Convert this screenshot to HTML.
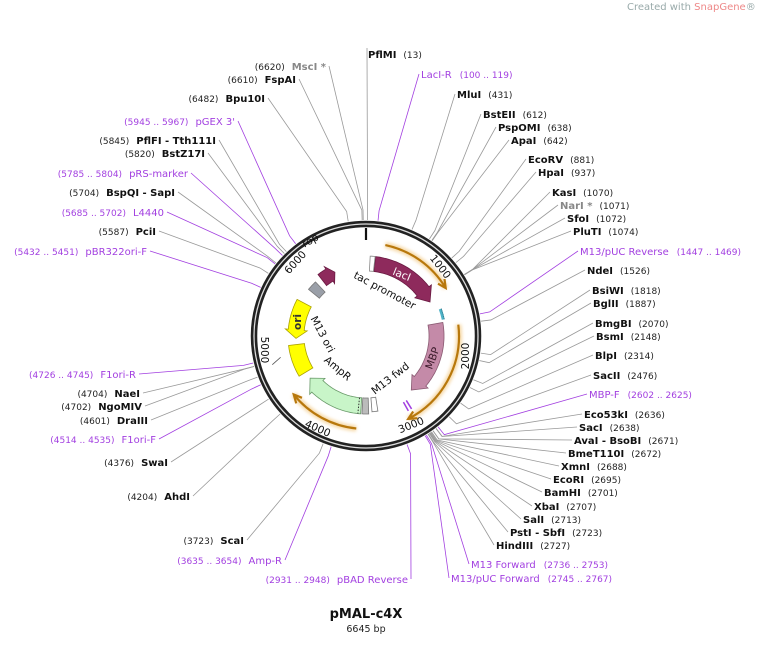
<!DOCTYPE html>
<html><head><meta charset="utf-8">
<style>
html,body{margin:0;padding:0;background:#fff;}
svg{display:block;font-family:"DejaVu Sans","Liberation Sans",sans-serif;}
.n{font-weight:bold;font-size:10px;fill:#111;}
.p{font-size:9px;fill:#222;}
.pu{font-size:10px;fill:#a23fe0;}
.pn{font-size:9px;fill:#a23fe0;}
.g{font-size:10px;font-weight:bold;fill:#888;}
.t{font-size:10.5px;fill:#111;}
</style></head>
<body>
<svg id="s" width="760" height="656" viewBox="0 0 760 656" xmlns="http://www.w3.org/2000/svg">
<defs>
<filter id="glow" x="-20%" y="-20%" width="140%" height="140%"><feGaussianBlur stdDeviation="1.6"/></filter>
</defs>
<text x="627" y="10" style="font-size:10px;fill:#9aa;">Created with <tspan fill="#e88">SnapGene</tspan>®</text>
<g id="lines"></g>
<g id="ring">
<circle cx="366" cy="336" r="112" fill="none" stroke="#222" stroke-width="6.5"/>
<circle cx="366" cy="336" r="112" fill="none" stroke="#ddd" stroke-width="1.3"/>
<line x1="366" y1="228" x2="366" y2="240" stroke="#111" stroke-width="2.2"/>
</g>
<g id="feat"></g>
<g id="lab"></g>
<g class="t">
<text x="440" y="270" text-anchor="middle" transform="rotate(52 440 267)">1000</text>
<text x="469" y="362" text-anchor="middle" transform="rotate(-90 466 359)">2000</text>
<text x="411" y="429" text-anchor="middle" transform="rotate(-22 410 425)">3000</text>
<text x="318" y="432" text-anchor="middle" transform="rotate(24 318 428)">4000</text>
<text x="264" y="353" text-anchor="middle" transform="rotate(90 264 350)">5000</text>
<text x="295" y="266" text-anchor="middle" transform="rotate(-48 295 262)">6000</text>
<text x="310" y="244" text-anchor="middle" transform="rotate(-30 310 240)">rop</text>
<text x="385" y="294" text-anchor="middle" transform="rotate(28 385 290)">tac promoter</text>
<text x="323" y="338" text-anchor="middle" transform="rotate(62 323 334)">M13 ori</text>
<text x="338" y="372" text-anchor="middle" transform="rotate(40 338 368)">AmpR</text>
<text x="390" y="382" text-anchor="middle" transform="rotate(-38 390 378)">M13 fwd</text>
<text x="432" y="362" text-anchor="middle" transform="rotate(-70 432 358)" style="fill:#3a1a2a">MBP</text>
<text x="402" y="278" text-anchor="middle" transform="rotate(22 402 274)" style="fill:#fff">lacI</text>
<text x="297" y="326" text-anchor="middle" transform="rotate(-90 297 322)" style="font-weight:bold;fill:#333">ori</text>
</g>
<text x="366" y="618" text-anchor="middle" style="font-weight:bold;font-size:13px;fill:#111">pMAL-c4X</text>
<text x="366" y="632" text-anchor="middle" style="font-size:9.5px;fill:#222">6645 bp</text>
</svg>
<script>
var cx=366,cy=336,N=6645,NS="http://www.w3.org/2000/svg";
function P(a,r){var t=a*Math.PI/180;return [cx+r*Math.sin(t),cy-r*Math.cos(t)];}
function el(p,tag,at){var e=document.createElementNS(NS,tag);for(var k in at)e.setAttribute(k,at[k]);document.getElementById(p).appendChild(e);return e;}
function arcPath(a1,a2,r){var p1=P(a1,r),p2=P(a2,r);var large=Math.abs(a2-a1)>180?1:0;var sw=a2>a1?1:0;return "M"+p1+" A"+r+","+r+" 0 "+large+","+sw+" "+p2;}
// feature arrow: from a1 to a2 (direction), head length h deg
function feat(a1,a2,r1,r2,h,fill,stroke){
 var d=a2>a1?1:-1,ah=a2-d*h,rm=(r1+r2)/2,fl=3;
 var pts=[];
 var n=30;
 for(var i=0;i<=n;i++){pts.push(P(a1+(ah-a1)*i/n,r2));}
 if(h>0){pts.push(P(ah,r2+fl));pts.push(P(a2,rm));pts.push(P(ah,r1-fl));}
 else{pts.push(P(a2,r2));pts.push(P(a2,r1));}
 for(var i=n;i>=0;i--){pts.push(P(a1+(ah-a1)*i/n,r1));}
 el("feat","polygon",{points:pts.map(function(p){return p[0].toFixed(1)+","+p[1].toFixed(1)}).join(" "),fill:fill,stroke:stroke,"stroke-width":0.8});
}
function orange(a1,a2,r){
 el("feat","path",{d:arcPath(a1,a2,r),fill:"none",stroke:"#f6d9a8","stroke-width":6,filter:"url(#glow)"});
 el("feat","path",{d:arcPath(a1,a2,r),fill:"none",stroke:"#b8780c","stroke-width":2.2});
 var d=a2>a1?1:-1;var a=P(a2,r),b=P(a2-d*5,r+4),c=P(a2-d*5,r-4);
 el("feat","polyline",{points:b+" "+a+" "+c,fill:"none",stroke:"#b8780c","stroke-width":2.2});
}
orange(12,59,93);orange(83,153,93);orange(186,231,93);
feat(7,62,65,80,10,"#8e2a5c","#6a1a42");
feat(3,6.5,65,80,0,"#fff","#888");
feat(80,140,63,78,10,"#c48aa8","#8a5a72");
feat(298,268,62,78,7,"#ffff00","#aaa000");
feat(239,263,62,78,0,"#ffff00","#aaa000");
feat(184,233,62,78,9,"#c8f5c8","#6a9a6a");
feat(178,183,62,78,0,"#bbb","#777");
feat(171,175.5,62,76,0,"#fff","#777");
feat(322,334,64,78,5,"#8e2a5c","#6a1a42");
feat(309,317,60,74,0,"#9a9fa8","#777");
el("feat","line",{x1:P(186,62)[0],y1:P(186,62)[1],x2:P(186,78)[0],y2:P(186,78)[1],stroke:"#333","stroke-dasharray":"1.5,1.5"});
el("feat","path",{d:arcPath(70,78,79),fill:"none",stroke:"#4fb3c8","stroke-width":3});
el("feat","path",{d:arcPath(70,78,80),fill:"none",stroke:"#1e6070","stroke-width":0.8,"stroke-dasharray":"1,1"});
el("feat","line",{x1:P(148,76)[0],y1:P(148,76)[1],x2:P(148,86)[0],y2:P(148,86)[1],stroke:"#a23fe0","stroke-width":1.5});
el("feat","line",{x1:P(150.5,76)[0],y1:P(150.5,76)[1],x2:P(150.5,86)[0],y2:P(150.5,86)[1],stroke:"#a23fe0","stroke-width":1.5});
el("feat","line",{x1:P(253,98)[0],y1:P(253,98)[1],x2:P(256,88)[0],y2:P(256,88)[1],stroke:"#555","stroke-width":0.8});

// labels: [pos, name, num, x, y, side, type]
var R=[
[13,"PflMI","(13)",368,58,"n"],
[110,"LacI-R","(100 .. 119)",421,78,"u"],
[431,"MluI","(431)",457,98,"n"],
[612,"BstEII","(612)",483,118,"n"],
[638,"PspOMI","(638)",498,131,"n"],
[642,"ApaI","(642)",511,144,"n"],
[881,"EcoRV","(881)",528,163,"n"],
[937,"HpaI","(937)",538,176,"n"],
[1070,"KasI","(1070)",552,196,"n"],
[1071,"NarI *","(1071)",560,209,"g"],
[1072,"SfoI","(1072)",567,222,"n"],
[1074,"PluTI","(1074)",573,235,"n"],
[1458,"M13/pUC Reverse","(1447 .. 1469)",580,255,"u"],
[1526,"NdeI","(1526)",587,274,"n"],
[1818,"BsiWI","(1818)",592,294,"n"],
[1887,"BglII","(1887)",593,307,"n"],
[2070,"BmgBI","(2070)",595,327,"n"],
[2148,"BsmI","(2148)",596,340,"n"],
[2314,"BlpI","(2314)",595,359,"n"],
[2476,"SacII","(2476)",593,379,"n"],
[2613,"MBP-F","(2602 .. 2625)",589,398,"u"],
[2636,"Eco53kI","(2636)",584,418,"n"],
[2638,"SacI","(2638)",579,431,"n"],
[2671,"AvaI - BsoBI","(2671)",574,444,"n"],
[2672,"BmeT110I","(2672)",568,457,"n"],
[2688,"XmnI","(2688)",561,470,"n"],
[2695,"EcoRI","(2695)",553,483,"n"],
[2701,"BamHI","(2701)",544,496,"n"],
[2707,"XbaI","(2707)",534,510,"n"],
[2713,"SalI","(2713)",523,523,"n"],
[2723,"PstI - SbfI","(2723)",510,536,"n"],
[2727,"HindIII","(2727)",496,549,"n"],
[2744,"M13 Forward","(2736 .. 2753)",471,568,"u"],
[2756,"M13/pUC Forward","(2745 .. 2767)",451,582,"u"]
];
var L=[
[6620,"MscI *","(6620)",326,70,"g"],
[6610,"FspAI","(6610)",296,83,"n"],
[6482,"Bpu10I","(6482)",265,102,"n"],
[5956,"pGEX 3'","(5945 .. 5967)",235,125,"u"],
[5845,"PflFI - Tth111I","(5845)",216,144,"n"],
[5820,"BstZ17I","(5820)",205,157,"n"],
[5795,"pRS-marker","(5785 .. 5804)",188,177,"u"],
[5704,"BspQI - SapI","(5704)",175,196,"n"],
[5693,"L4440","(5685 .. 5702)",164,216,"u"],
[5587,"PciI","(5587)",156,235,"n"],
[5441,"pBR322ori-F","(5432 .. 5451)",147,255,"u"],
[4735,"F1ori-R","(4726 .. 4745)",136,378,"u"],
[4704,"NaeI","(4704)",140,397,"n"],
[4702,"NgoMIV","(4702)",142,410,"n"],
[4601,"DraIII","(4601)",148,424,"n"],
[4525,"F1ori-F","(4514 .. 4535)",156,443,"u"],
[4376,"SwaI","(4376)",168,466,"n"],
[4204,"AhdI","(4204)",190,500,"n"],
[3723,"ScaI","(3723)",244,544,"n"],
[3645,"Amp-R","(3635 .. 3654)",282,564,"u"],
[2940,"pBAD Reverse","(2931 .. 2948)",408,583,"u"]
];
function cls(t){return t=="u"?["pu","pn"]:t=="g"?["g","p"]:["n","p"];}
function line(pos,x,y,t){
 var a=pos/N*360,p=P(a,116),q=P(a,126);
 var col=t=="u"?"#a23fe0":"#999";
 el("lines","polyline",{points:p+" "+q+" "+x+","+y,fill:"none",stroke:col,"stroke-width":0.8});
}
R.forEach(function(d){
 var c=cls(d[5]);
 var t=el("lab","text",{x:d[3],y:d[4]});
 var a=document.createElementNS(NS,"tspan");a.setAttribute("class",c[0]);a.textContent=d[1];t.appendChild(a);
 var b=document.createElementNS(NS,"tspan");b.setAttribute("class",c[1]);b.setAttribute("dx",d[5]=="u"?"8":"7");b.textContent=d[2];t.appendChild(b);
 var w=d[3]-2,yy=d[4]-4;
 if(d[1]=="PflMI"){line(d[0],367,48,d[5]);}else line(d[0],w,yy,d[5]);
});
L.forEach(function(d){
 var c=cls(d[5]);
 var t=el("lab","text",{x:d[3],y:d[4],"text-anchor":"end"});
 var b=document.createElementNS(NS,"tspan");b.setAttribute("class",c[1]);b.textContent=d[2];t.appendChild(b);
 var a=document.createElementNS(NS,"tspan");a.setAttribute("class",c[0]);a.setAttribute("dx","7");a.textContent=d[1];t.appendChild(a);
 line(d[0],d[3]+3,d[4]-4,d[5]);
});
</script>
</body></html>
